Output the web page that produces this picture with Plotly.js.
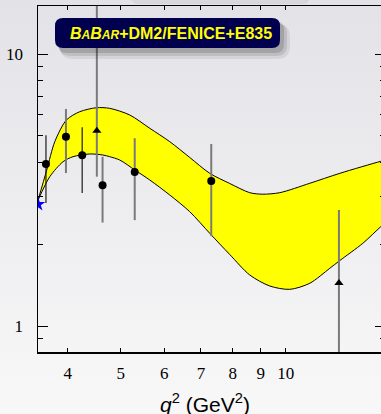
<!DOCTYPE html>
<html>
<head>
<meta charset="utf-8">
<script src="https://cdn.plot.ly/plotly-3.0.1.min.js"></script>
<style>
  html, body { margin: 0; padding: 0; overflow: hidden; width: 381px; height: 414px; }
  body { background: linear-gradient(to bottom, #e3e3e7 0%, #ececef 45%, #f8f8f8 100%); }
  #chart { width: 390px; height: 414px; }
</style>
</head>
<body>
<div id="chart"></div>
<script>
// ---- data ----
const bandUpperX = [3.531, 3.662, 3.788, 3.978, 4.207, 4.513, 4.769, 5.191, 5.646, 6.141, 6.679, 7.264, 7.900, 8.594, 9.077, 9.750, 11.06, 12.55, 14.90, 15.48];
const bandUpperY = [2.905, 3.746, 4.761, 5.720, 6.135, 6.346, 6.314, 5.966, 5.332, 4.761, 4.164, 3.642, 3.342, 3.091, 3.052, 3.091, 3.347, 3.642, 4.032, 4.111];
const bandLowerX = [3.531, 3.709, 3.922, 4.090, 4.387, 4.634, 4.769, 4.977, 5.302, 5.646, 6.141, 6.679, 7.264, 7.900, 8.594, 9.347, 10.17, 11.06, 12.03, 12.55, 13.82, 14.90, 15.48];
const bandLowerY = [2.905, 3.539, 4.018, 4.193, 4.290, 4.253, 4.193, 4.076, 3.746, 3.442, 3.031, 2.632, 2.192, 1.832, 1.540, 1.403, 1.364, 1.436, 1.630, 1.741, 2.014, 2.318, 2.474];

// circles with thin dark error bars
const circAX = [3.65, 4.25];
const circAY = [3.94, 4.24];
const circAHi = [5.03, 5.38];
const circALo = [2.83, 3.08];

// circles with grey error bars
const circBX = [3.97, 4.63, 5.30, 7.31];
const circBY = [4.96, 3.29, 3.68, 3.41];
const circBHi = [6.28, 4.19, 4.90, 4.67];
const circBLo = [3.65, 2.40, 2.45, 2.14];

// triangles
const triX = [4.52, 12.5];
const triY = [5.22, 1.44];
const triHi = [17.0, 2.67];
const triLo = [3.54, 0.5];

// threshold star
const starX = [3.53];
const starY = [2.80];

const xTickVals = [4, 5, 6, 7, 8, 9, 10];
const xTickText = ['4', '5', '6', '7', '8', '9', '10'];
const yTickVals = [1, 10];
const yTickText = ['1', '10'];
const yMinorVals = [0.9, 2, 3, 4, 5, 6, 7, 8, 9];

// ---- geometry helpers (pixel -> paper) ----
const PL = 38, PR = 385, PT = 6, PB = 352;
const PX = p => (p - PL) / (PR - PL);
const PY = p => (PB - p) / (PB - PT);
function rr(x0, y0, x1, y1, r) {
  return `M ${PX(x0 + r)},${PY(y0)} L ${PX(x1 - r)},${PY(y0)} Q ${PX(x1)},${PY(y0)} ${PX(x1)},${PY(y0 + r)} ` +
         `L ${PX(x1)},${PY(y1 - r)} Q ${PX(x1)},${PY(y1)} ${PX(x1 - r)},${PY(y1)} ` +
         `L ${PX(x0 + r)},${PY(y1)} Q ${PX(x0)},${PY(y1)} ${PX(x0)},${PY(y1 - r)} ` +
         `L ${PX(x0)},${PY(y0 + r)} Q ${PX(x0)},${PY(y0)} ${PX(x0 + r)},${PY(y0)} Z`;
}
const diff = (a, b) => a.map((v, i) => v - b[i]);

const bandLower = {
  x: bandLowerX, y: bandLowerY, mode: 'lines',
  line: { color: '#000000', width: 1, shape: 'spline', smoothing: 0.8 },
  hoverinfo: 'skip'
};
const bandUpper = {
  x: bandUpperX, y: bandUpperY, mode: 'lines', fill: 'tonexty', fillcolor: '#ffff00',
  line: { color: '#000000', width: 1, shape: 'spline', smoothing: 0.8 },
  hoverinfo: 'skip'
};

const tA = {
  x: circAX, y: circAY, mode: 'markers',
  marker: { symbol: 'circle', size: 8, color: '#000000' },
  error_y: { type: 'data', symmetric: false, array: diff(circAHi, circAY), arrayminus: diff(circAY, circALo),
             color: '#1a1a1a', thickness: 1.2, width: 0 }
};
const tB = {
  x: circBX, y: circBY, mode: 'markers',
  marker: { symbol: 'circle', size: 8, color: '#000000' },
  error_y: { type: 'data', symmetric: false, array: diff(circBHi, circBY), arrayminus: diff(circBY, circBLo),
             color: '#7a7a7a', thickness: 2, width: 0 }
};
const tT = {
  x: triX, y: triY, mode: 'markers',
  marker: { symbol: 'triangle-up', size: 8, color: '#000000' },
  error_y: { type: 'data', symmetric: false, array: diff(triHi, triY), arrayminus: diff(triY, triLo),
             color: '#7a7a7a', thickness: 2, width: 0 }
};
const tS = {
  x: starX, y: starY, mode: 'markers',
  marker: { symbol: 'star', size: 11, color: '#0000ff', line: { width: 0 } }
};

const xr = [Math.log10(3.53), Math.log10(3.53) + 347 / 548];
const yr = [1 - (352 - 54) / 272, 1 + (54 - 6) / 272];
const serif = { family: 'Liberation Serif, Times New Roman, serif', size: 17, color: '#000000' };

const layout = {
  width: 390, height: 414,
  margin: { l: PL, r: 390 - PR, t: PT, b: 414 - PB, pad: 0 },
  paper_bgcolor: 'rgba(0,0,0,0)', plot_bgcolor: 'rgba(0,0,0,0)',
  showlegend: false, hovermode: false,
  xaxis: {
    type: 'log', range: xr, showgrid: false, zeroline: false,
    showline: true, linecolor: '#000000', linewidth: 1.5, mirror: 'ticks',
    ticks: 'inside', ticklen: 4, tickwidth: 1, tickcolor: '#000000',
    tickvals: xTickVals, ticktext: xTickText, tickfont: serif, ticklabelstandoff: 5
  },
  xaxis2: {
    type: 'log', range: xr, overlaying: 'x', anchor: 'y', side: 'bottom',
    showgrid: false, zeroline: false, showline: false, mirror: 'ticks',
    ticks: 'inside', ticklen: 9, tickwidth: 1, tickcolor: '#000000',
    tickvals: [10], showticklabels: false
  },
  yaxis: {
    type: 'log', range: yr, showgrid: false, zeroline: false,
    showline: true, linecolor: '#000000', linewidth: 1.5, mirror: 'ticks',
    ticks: 'inside', ticklen: 10, tickwidth: 1, tickcolor: '#000000',
    tickvals: yTickVals, ticktext: yTickText, tickfont: serif, ticklabelstandoff: 10,
    minor: { tickvals: yMinorVals, ticks: 'inside', ticklen: 5, tickwidth: 1, tickcolor: '#000000', showgrid: false }
  },
  shapes: [
    // faint box at the very top
    { type: 'path', xref: 'paper', yref: 'paper', path: rr(132, -20, 309, 4, 6), fillcolor: 'rgba(0,0,0,0.05)', line: { width: 0 } },
    { type: 'path', xref: 'paper', yref: 'paper', path: rr(130, -20, 306, 2, 6), fillcolor: '#d9d9dd', line: { width: 0 } },
    // title box shadow
    { type: 'path', xref: 'paper', yref: 'paper', path: rr(60, 24, 290, 59, 13), fillcolor: 'rgba(0,0,0,0.07)', line: { width: 0 } },
    { type: 'path', xref: 'paper', yref: 'paper', path: rr(59, 23, 287, 56, 11), fillcolor: 'rgba(0,0,0,0.10)', line: { width: 0 } },
    { type: 'path', xref: 'paper', yref: 'paper', path: rr(58, 21, 284, 53, 9), fillcolor: 'rgba(0,0,0,0.14)', line: { width: 0 } },
    // title box
    { type: 'path', xref: 'paper', yref: 'paper', path: rr(55, 18, 280, 48, 8), fillcolor: '#00004e', line: { width: 0 } }
  ],
  annotations: [
    {
      xref: 'paper', yref: 'paper', x: PX(170.5), y: PY(33), xanchor: 'center', yanchor: 'middle', showarrow: false,
      text: '<b><i>B<span style="font-size:12px">A</span>B<span style="font-size:12px">AR</span></i>+DM2/FENICE+E835</b>',
      font: { family: 'Liberation Sans, Arial, sans-serif', size: 16, color: '#ffff00' }
    },
    {
      xref: 'paper', yref: 'paper', x: PX(205), y: PY(403), xanchor: 'center', yanchor: 'middle', showarrow: false,
      text: '<i>q</i><sup>2</sup> (GeV<sup>2</sup>)',
      font: { family: 'Liberation Sans, Arial, sans-serif', size: 21, color: '#000000' }
    }
  ]
};

Plotly.newPlot('chart', [bandLower, bandUpper, tB, tA, tT, tS], layout, { displayModeBar: false, staticPlot: true });
</script>
</body>
</html>
